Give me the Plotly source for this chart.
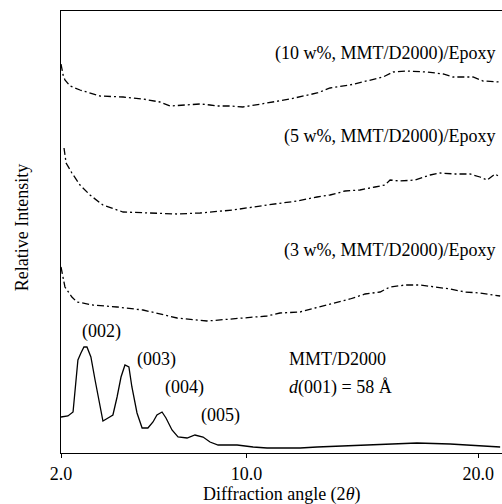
import plotly.graph_objects as go

# 2-theta (deg) and relative intensity (arbitrary units)
x10 = [2.00, 2.04, 2.09, 2.17, 2.39, 2.82, 3.12, 3.68, 4.68, 5.54, 6.27, 6.70, 7.35, 8.00, 8.43, 8.73,
       9.29, 9.85, 10.89, 11.88, 13.05, 13.61, 14.47, 15.34, 15.90, 16.33, 16.93, 17.80, 18.49, 18.92,
       19.78, 20.21, 20.95]
y10 = [389, 383, 378, 373, 367, 363, 361, 357, 356, 354, 351, 347, 348, 349, 348, 347,
       347, 346, 350, 354, 360, 365, 368, 373, 376, 381, 382, 381, 379, 376,
       376, 372, 371]

x5 = [2.13, 2.22, 2.47, 2.82, 3.25, 3.81, 4.68, 5.54, 7.01, 8.00, 9.42, 10.89, 12.19, 13.05, 13.61,
      14.26, 14.90, 15.55, 15.98, 16.20, 16.63, 17.28, 17.93, 18.36, 19.00, 19.65, 20.08, 20.39,
      20.73, 20.95]
y5 = [305, 290, 280, 268, 258, 248, 241, 240, 239, 240, 243, 248, 252, 256, 258,
      262, 263, 266, 268, 273, 272, 273, 278, 280, 279, 279, 276, 273,
      279, 276]

x3 = [2.00, 2.09, 2.17, 2.47, 2.69, 3.38, 4.42, 5.54, 7.01, 8.30, 9.42, 10.89, 11.45, 12.32, 12.96,
      13.83, 14.47, 15.12, 15.77, 16.20, 16.85, 17.49, 18.14, 18.79, 19.44, 20.08, 20.95]
y3 = [186, 176, 166, 156, 151, 148, 146, 143, 135, 132, 134, 137, 140, 141, 145,
      150, 154, 159, 161, 166, 168, 168, 166, 164, 161, 160, 157]

xm = [2.00, 2.30, 2.52, 2.65, 2.73, 2.86, 2.99, 3.12, 3.29, 3.47, 3.68, 3.81, 4.03, 4.24, 4.42,
      4.59, 4.76, 4.93, 5.06, 5.28, 5.50, 5.75, 5.97, 6.14, 6.36, 6.53, 6.79, 7.05, 7.44, 7.78,
      8.13, 8.43, 8.78, 9.60, 10.29, 10.89, 12.32, 13.05, 15.21, 17.36, 18.79, 20.21, 20.95]
ym = [36, 37, 41, 70, 93, 100, 106, 106, 96, 73, 46, 32, 35, 38, 56,
      76, 88, 86, 66, 40, 25, 25, 31, 38, 41, 35, 23, 16, 15, 18,
      16, 11, 8, 8, 6, 5, 5, 6, 8, 10, 9, 7, 6]

tick_vals = [2, 10, 20]
tick_text = ["2.0", "10.0", "20.0"]

FONT = "Liberation Serif, Times New Roman, serif"

fig = go.Figure()
dash_pat = "7px,3px,2px,3px"
for xs, ys, dash in [(x10, y10, dash_pat), (x5, y5, dash_pat), (x3, y3, dash_pat), (xm, ym, "solid")]:
    fig.add_trace(go.Scatter(x=xs, y=ys, mode="lines",
                             line=dict(color="black", width=1.3, dash=dash),
                             showlegend=False, hoverinfo="skip"))

notes = [
    (20.8, 400, "(10 w%, MMT/D2000)/Epoxy", "right"),
    (20.8, 317, "(5 w%, MMT/D2000)/Epoxy", "right"),
    (20.8, 203, "(3 w%, MMT/D2000)/Epoxy", "right"),
    (3.73, 122, "(002)", "center"),
    (6.14, 94, "(003)", "center"),
    (7.31, 66, "(004)", "center"),
    (8.90, 38, "(005)", "center"),
    (11.75, 94, "MMT/D2000", "left"),
    (11.75, 66, "<i>d</i>(001) = 58 Å", "left"),
]
anns = []
for ax_, ay_, txt, xa in notes:
    anns.append(dict(x=ax_, y=ay_, xref="x", yref="y", text=txt, showarrow=False,
                     xanchor=xa, yanchor="middle", font=dict(family=FONT, size=18, color="black")))
anns.append(dict(x=0.501, y=-0.093, xref="paper", yref="paper", text="Diffraction angle (2<i>θ</i>)",
                 showarrow=False, xanchor="center", yanchor="middle",
                 font=dict(family=FONT, size=18, color="black")))
anns.append(dict(x=-0.088, y=0.509, xref="paper", yref="paper", text="Relative Intensity",
                 showarrow=False, textangle=-90, xanchor="center", yanchor="middle",
                 font=dict(family=FONT, size=18, color="black")))

fig.update_layout(
    width=502, height=504,
    margin=dict(l=61, r=0, t=11, b=51),
    paper_bgcolor="white", plot_bgcolor="white",
    font=dict(family=FONT, size=18, color="black"),
    annotations=anns,
    xaxis=dict(range=[2, 21.03], tickvals=tick_vals, ticktext=tick_text,
               ticks="outside", ticklen=4, tickwidth=1, tickcolor="black",
               showline=True, linecolor="black", linewidth=1.2, mirror=True,
               showgrid=False, zeroline=False, tickfont=dict(family=FONT, size=18)),
    yaxis=dict(range=[0, 442], showticklabels=False, ticks="",
               showline=True, linecolor="black", linewidth=1.2,
               showgrid=False, zeroline=False),
)

fig.write_html("out.html")
